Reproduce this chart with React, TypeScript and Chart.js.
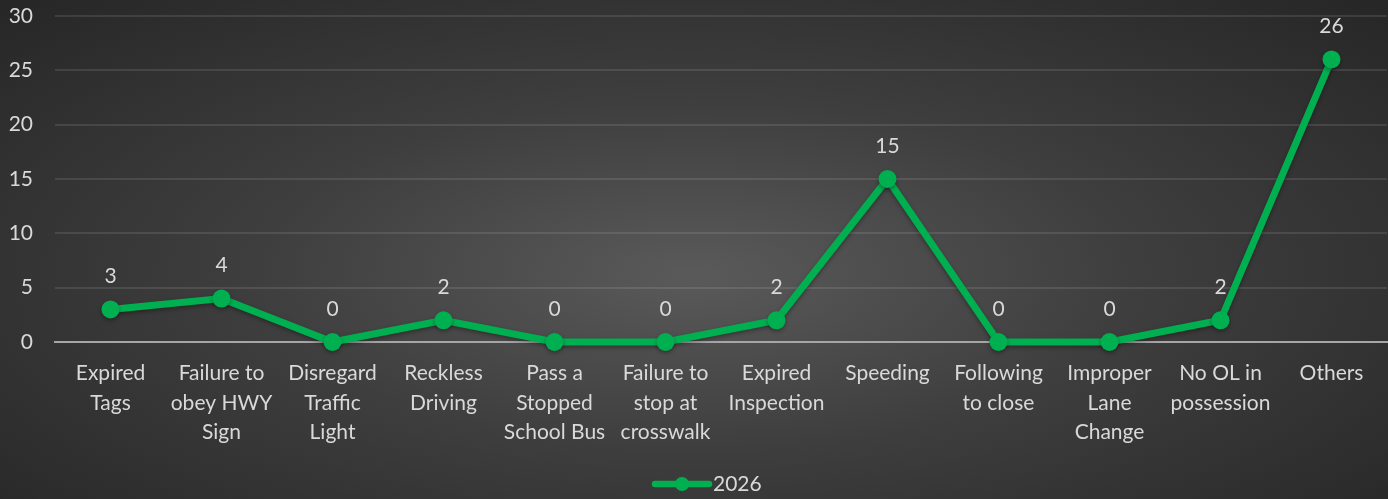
import React, { useEffect, useRef } from "react";
import { Chart, registerables } from "chart.js";

Chart.register(...registerables);

const categories: string[][] = [
  ["Expired", "Tags"],
  ["Failure to", "obey HWY", "Sign"],
  ["Disregard", "Traffic", "Light"],
  ["Reckless", "Driving"],
  ["Pass a", "Stopped", "School Bus"],
  ["Failure to", "stop at", "crosswalk"],
  ["Expired", "Inspection"],
  ["Speeding"],
  ["Following", "to close"],
  ["Improper", "Lane", "Change"],
  ["No OL in", "possession"],
  ["Others"],
];
const seriesName = "2026";
const values2026 = [3, 4, 0, 2, 0, 0, 2, 15, 0, 0, 2, 26];
const yTicks = [0, 5, 10, 15, 20, 25, 30];

const GREEN = "#00b050";
const TEXT = "#d9d9d9";
const FONT = "Lato, 'Open Sans', sans-serif";
const FS = 21;

const labelsPlugin = {
  id: "valueLabels",
  beforeDatasetsDraw(chart: any) {
    const ctx = chart.ctx;
    ctx.save();
    ctx.shadowColor = "rgba(0,0,0,0.35)";
    ctx.shadowBlur = 4;
    ctx.shadowOffsetY = 2;
  },
  afterDatasetsDraw(chart: any) {
    const ctx = chart.ctx;
    ctx.restore();
    const meta = chart.getDatasetMeta(0);
    ctx.save();
    ctx.fillStyle = TEXT;
    ctx.font = `${FS}px ${FONT}`;
    ctx.textAlign = "center";
    ctx.textBaseline = "middle";
    meta.data.forEach((pt: any, i: number) => {
      ctx.fillText(String(values2026[i]), pt.x, pt.y - 33);
    });
    ctx.restore();
  },
  afterDraw(chart: any) {
    const ctx = chart.ctx;
    ctx.save();
    const cy = 484;
    const x0 = 655;
    const x1 = 709;
    ctx.strokeStyle = GREEN;
    ctx.lineWidth = 6.5;
    ctx.lineCap = "round";
    ctx.beginPath();
    ctx.moveTo(x0, cy);
    ctx.lineTo(x1, cy);
    ctx.stroke();
    ctx.fillStyle = GREEN;
    ctx.beginPath();
    ctx.arc((x0 + x1) / 2, cy, 7, 0, Math.PI * 2);
    ctx.fill();
    ctx.fillStyle = TEXT;
    ctx.font = `${FS}px ${FONT}`;
    ctx.textAlign = "left";
    ctx.textBaseline = "middle";
    ctx.fillText(seriesName, 713, cy);
    ctx.restore();
  },
};

export default function App() {
  const ref = useRef<HTMLCanvasElement | null>(null);
  useEffect(() => {
    document.body.style.margin = "0";
    const canvas = ref.current!;
    const chart = new Chart(canvas, {
      type: "line",
      data: {
        labels: categories,
        datasets: [
          {
            label: seriesName,
            data: values2026,
            borderColor: GREEN,
            backgroundColor: GREEN,
            borderWidth: 7,
            pointRadius: 9,
            pointBorderWidth: 0,
            pointBackgroundColor: GREEN,
            tension: 0,
            clip: false,
          } as any,
        ],
      },
      plugins: [labelsPlugin],
      options: {
        responsive: false,
        animation: false,
        layout: { autoPadding: false, padding: { top: 16, right: 1, bottom: 49, left: 0 } },
        plugins: { legend: { display: false }, tooltip: { enabled: false } },
        scales: {
          x: {
            offset: true,
            grid: { display: false, drawTicks: false },
            border: { display: true, color: "#a6a6a6", width: 2 },
            ticks: {
              color: TEXT,
              font: { family: FONT, size: FS, lineHeight: 1.4 },
              padding: 17,
              maxRotation: 0,
              autoSkip: false,
            },
            afterFit(scale: any) {
              scale.height = 108;
              scale.paddingLeft = 0;
              scale.paddingRight = 0;
            },
          },
          y: {
            min: 0,
            max: 30,
            afterBuildTicks(scale: any) {
              scale.ticks = yTicks.map((v) => ({ value: v }));
            },
            grid: {
              color: (c: any) => (c.tick && c.tick.value === 0 ? "rgba(0,0,0,0)" : "rgba(255,255,255,0.1)"),
              lineWidth: 2,
              drawTicks: false,
            },
            border: { display: false },
            ticks: {
              color: TEXT,
              font: { family: FONT, size: FS },
              padding: 22,
            },
            afterFit(scale: any) {
              scale.width = 55;
              scale.paddingTop = 0;
              scale.paddingBottom = 0;
            },
          },
        },
      },
    });
    return () => chart.destroy();
  }, []);
  return (
    <div
      style={{
        width: 1388,
        height: 499,
        background: "radial-gradient(ellipse at 50% 55%, #5a5a5a 0%, #3e3e3e 45%, #262626 100%)",
      }}
    >
      <canvas ref={ref} width={1388} height={499} style={{ display: "block" }} />
    </div>
  );
}
